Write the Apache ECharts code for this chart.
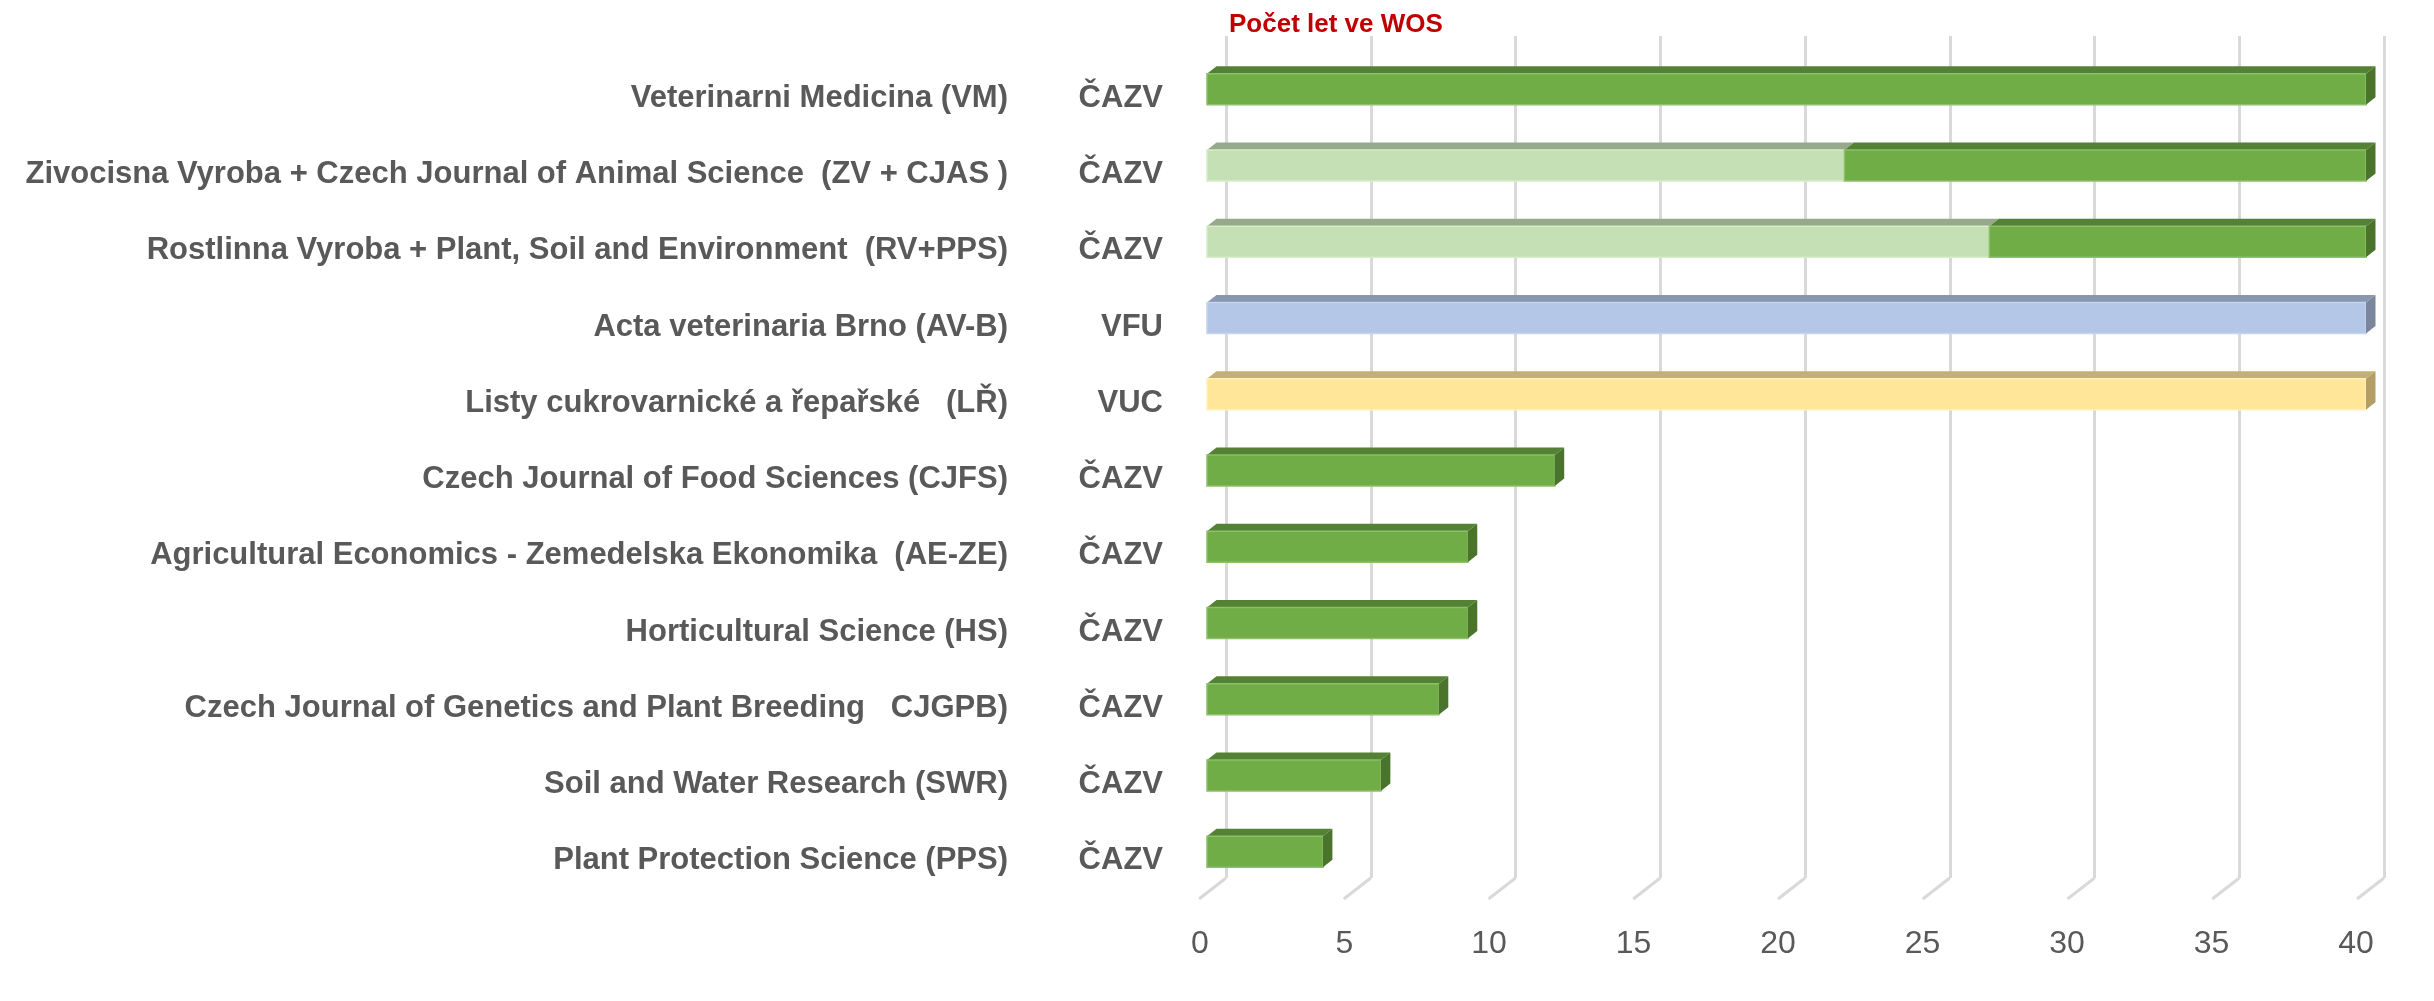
<!DOCTYPE html>
<html>
<head>
<meta charset="utf-8">
<title>Počet let ve WOS</title>
<script src="https://cdn.jsdelivr.net/npm/echarts@6/dist/echarts.min.js"></script>
<style>
    html, body { margin: 0; padding: 0; background: #fff; }
    #chart { width: 2434px; height: 1001px; }
</style>
</head>
<body>
<div id="chart"></div>
<script>
// journals, top to bottom
var journals = [
    'Veterinarni Medicina (VM)',
    'Zivocisna Vyroba + Czech Journal of Animal Science  (ZV + CJAS )',
    'Rostlinna Vyroba + Plant, Soil and Environment  (RV+PPS)',
    'Acta veterinaria Brno (AV-B)',
    'Listy cukrovarnické a řepařské   (LŘ)',
    'Czech Journal of Food Sciences (CJFS)',
    'Agricultural Economics - Zemedelska Ekonomika  (AE-ZE)',
    'Horticultural Science (HS)',
    'Czech Journal of Genetics and Plant Breeding   CJGPB)',
    'Soil and Water Research (SWR)',
    'Plant Protection Science (PPS)'
];
var publishers = ['ČAZV', 'ČAZV', 'ČAZV', 'VFU', 'VUC', 'ČAZV', 'ČAZV', 'ČAZV', 'ČAZV', 'ČAZV', 'ČAZV'];
// years under the former title (light part) and under the current one
var formerYears = [0, 22, 27, 0, 0, 0, 0, 0, 0, 0, 0];
var currentYears = [40, 18, 13, 40, 40, 12, 9, 9, 8, 6, 4];
var xTicks = [0, 5, 10, 15, 20, 25, 30, 35, 40];

// front / top / side / edge
var faces = {
    'ČAZV': ['#70ad47', '#548235', '#4a742c', '#8cc06a'],
    'VFU': ['#b4c7e7', '#8896ae', '#7a869c', '#c6d4ee'],
    'VUC': ['#ffe699', '#c4af74', '#b39f66', '#fff0bd'],
    'old': ['#c5e0b4', '#96a98b', '#8d9f82', '#d6ebc8']
};

var formerData = [], currentData = [];
for (var i = 0; i < journals.length; i++) {
    formerData.push([0, formerYears[i], i]);
    currentData.push([formerYears[i], formerYears[i] + currentYears[i], i]);
}

var BAR_H = 31, DX = 9.5, DY = 7.5;

function barRenderer(kind) {
    return function (params, api) {
        var start = api.value(0), end = api.value(1), row = api.value(2);
        if (end <= start) return null;
        var a = api.coord([start, row]);
        var b = api.coord([end, row]);
        var c = faces[kind === 'old' ? 'old' : publishers[params.dataIndex]];
        var x0 = a[0], x1 = b[0];
        var yt = a[1] - BAR_H / 2, yb = a[1] + BAR_H / 2;
        var kids = [
            {
                type: 'polygon',
                shape: { points: [[x0, yt], [x1, yt], [x1 + DX, yt - DY], [x0 + DX, yt - DY]] },
                style: { fill: c[1] }
            },
            {
                type: 'rect',
                shape: { x: x0, y: yt, width: x1 - x0, height: BAR_H },
                style: { fill: c[0], stroke: c[3], lineWidth: 1.5 }
            }
        ];
        if (kind !== 'old') {
            kids.push({
                type: 'polygon',
                shape: { points: [[x1, yt], [x1 + DX, yt - DY], [x1 + DX, yb - DY], [x1, yb]] },
                style: { fill: c[2] }
            });
        }
        return { type: 'group', children: kids };
    };
}

var labelFont = 'Liberation Sans';
var myChart = echarts.init(document.getElementById('chart'));
myChart.setOption({
    backgroundColor: '#ffffff',
    animation: false,
    title: {
        text: 'Počet let ve WOS',
        left: 1224,
        top: 7,
        textStyle: { color: '#c00000', fontSize: 26, fontWeight: 'bold', fontFamily: labelFont }
    },
    grid: [
        // bars (front face)
        { left: 1207, width: 1159, top: 51, height: 839, outerBoundsMode: 'none' },
        // back wall
        { left: 1226, width: 1158, top: 36, height: 842, outerBoundsMode: 'none' },
        // tick labels on the front edge of the floor
        { left: 1200, width: 1156, top: 36, height: 862, outerBoundsMode: 'none' }
    ],
    xAxis: [
        { gridIndex: 0, type: 'value', min: 0, max: 40, interval: 5, show: false },
        {
            gridIndex: 1, type: 'value', min: 0, max: 40, interval: 5,
            axisLine: { show: false }, axisTick: { show: false }, axisLabel: { show: false },
            splitLine: { show: true, lineStyle: { color: '#d9d9d9', width: 3 } }
        },
        {
            gridIndex: 2, type: 'value', min: 0, max: 40, interval: 5,
            axisLine: { show: false }, axisTick: { show: false }, splitLine: { show: false },
            axisLabel: { margin: 30, fontSize: 32, color: '#595959', fontFamily: labelFont }
        }
    ],
    yAxis: [
        {
            gridIndex: 0, type: 'category', data: journals, inverse: true,
            axisLine: { show: false }, axisTick: { show: false },
            axisLabel: {
                interval: 0,
                margin: 44,
                padding: [18, 0, 0, 0],
                formatter: function (value, idx) {
                    return '{n|' + value + '}{p|' + publishers[idx] + '}';
                },
                rich: {
                    n: { fontSize: 31, fontWeight: 'bold', color: '#595959', fontFamily: labelFont },
                    p: { fontSize: 31, fontWeight: 'bold', color: '#595959', fontFamily: labelFont, width: 155, align: 'right' }
                }
            }
        },
        { gridIndex: 1, type: 'value', min: 0, max: 1, show: false },
        { gridIndex: 2, type: 'value', min: 0, max: 1, show: false }
    ],
    series: [
        {
            name: 'floor',
            type: 'custom',
            xAxisIndex: 1,
            yAxisIndex: 1,
            silent: true,
            data: xTicks.map(function (v) { return [v, 0]; }),
            renderItem: function (params, api) {
                var p = api.coord([api.value(0), api.value(1)]);
                return {
                    type: 'line',
                    shape: { x1: p[0], y1: p[1], x2: p[0] - 27, y2: p[1] + 21 },
                    style: { stroke: '#d9d9d9', lineWidth: 3 }
                };
            }
        },
        {
            name: 'former',
            type: 'custom',
            xAxisIndex: 0,
            yAxisIndex: 0,
            encode: { x: [0, 1], y: 2 },
            data: formerData,
            renderItem: barRenderer('old')
        },
        {
            name: 'Počet let ve WOS',
            type: 'custom',
            xAxisIndex: 0,
            yAxisIndex: 0,
            encode: { x: [0, 1], y: 2 },
            data: currentData,
            renderItem: barRenderer('current')
        }
    ]
});
</script>
</body>
</html>
